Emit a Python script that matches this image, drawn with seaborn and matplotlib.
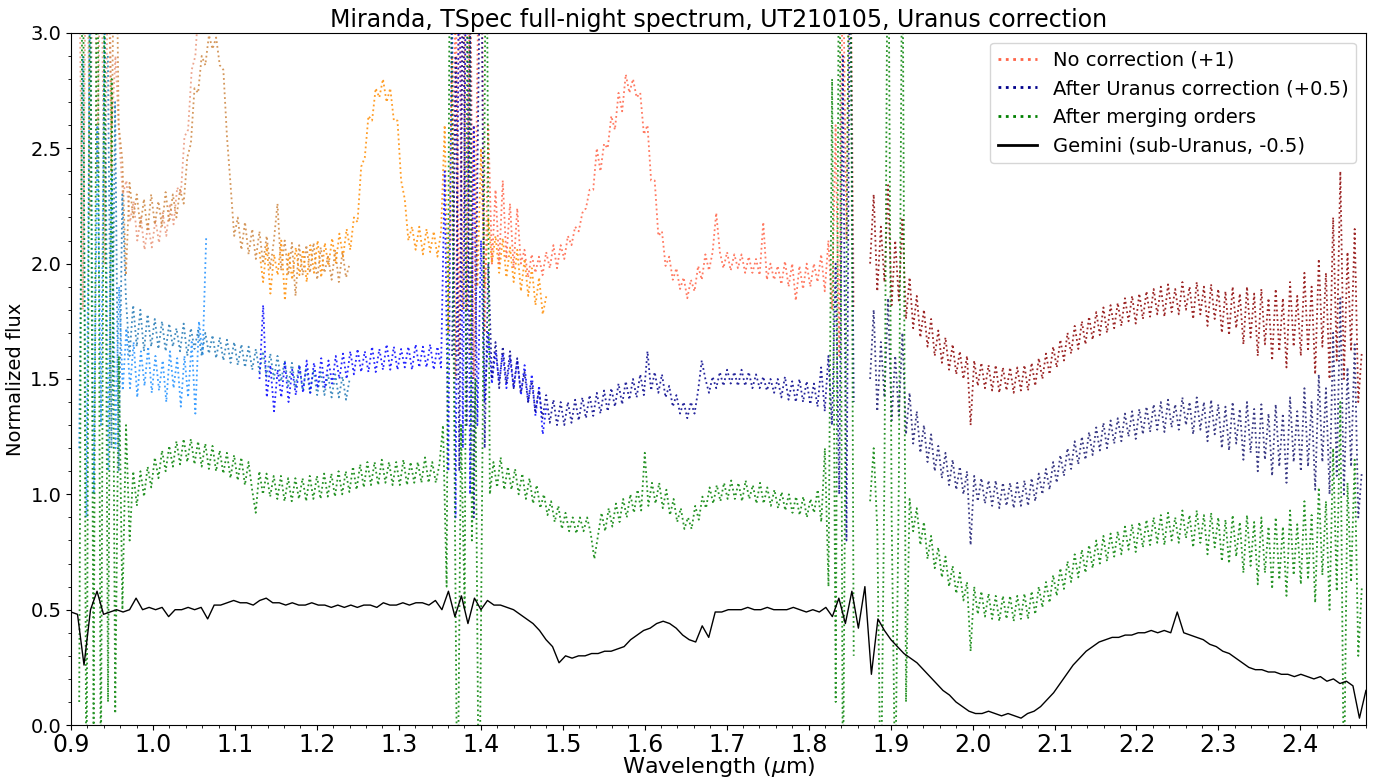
import numpy as np
import pandas as pd
import matplotlib
matplotlib.use("Agg")
import matplotlib.pyplot as plt
from matplotlib.ticker import MultipleLocator
from matplotlib.lines import Line2D
import seaborn as sns

# ---------------- data ----------------
# wavelength coverage (micron) of each spectral order / spectrum
range_a = (0.910, 1.065)
range_b = (0.945, 1.240)
range_c = (1.130, 1.480)
range_d = (1.365, 1.855)
range_e = (1.875, 2.475)
range_merged_1 = (0.910, 1.855)
range_merged_2 = (1.875, 2.475)
range_gemini = (0.900, 2.480)

# "No correction (+1)" per order
raw_a = [3.4, 1.8, 3.8, 2.2, 4.0, 2.4, 3.6, 2.0, 3.5, 2.6, 2.9,
         2.55, 2.3, 2.36, 2.18, 2.27, 2.1, 2.2, 2.06, 2.17, 2.07,
         2.19, 2.09, 2.22, 2.12, 2.26, 2.17, 2.33, 2.3, 2.55, 2.58,
         2.84, 2.9, 3.15, 3.1, 3.3]
raw_b = [3.6, 2.4, 3.9, 2.6, 2.45, 1.95, 2.35, 2.2, 2.3, 2.16,
         2.28, 2.14, 2.3, 2.17, 2.27, 2.16, 2.31, 2.18, 2.3, 2.2,
         2.32, 2.26, 2.46, 2.52, 2.76, 2.74, 2.9, 2.86, 2.99, 2.93,
         2.98, 2.86, 2.84, 2.55, 2.34, 2.12, 2.2, 2.06, 2.18, 2.04,
         2.15, 2.02, 2.14, 2.0, 2.12, 1.98, 2.1, 2.26, 1.97, 2.1,
         1.95, 2.09, 1.86, 2.08, 1.95, 2.08, 1.96, 2.09, 1.93, 2.07,
         1.96, 2.03, 1.93, 2.06, 1.92, 2.05, 1.94, 2.0]
raw_c = [2.05, 1.92, 2.08, 1.87, 2.04, 1.95, 2.1, 1.84, 2.05, 1.93,
         2.07, 1.95, 2.06, 1.92, 2.08, 1.96, 2.1, 1.94, 2.09, 1.99,
         2.11, 2.0, 2.13, 2.03, 2.15, 2.06, 2.2, 2.18, 2.42, 2.46,
         2.64, 2.62, 2.76, 2.72, 2.8, 2.7, 2.76, 2.62, 2.62, 2.36,
         2.28, 2.1, 2.16, 2.06, 2.16, 2.04, 2.15, 2.05, 2.14, 2.03,
         2.14, 2.6, 1.7, 2.9, 1.5, 3.3, 1.8, 3.6, 1.6, 2.6,
         1.9, 2.5, 1.9, 2.2, 2.0, 2.12, 1.96, 2.11, 1.94, 2.07,
         1.92, 2.06, 1.88, 2.02, 1.86, 1.98, 1.82, 1.94, 1.78, 1.86]
raw_d = [2.1, 3.2, 1.6, 3.6, 1.8, 3.4, 1.5, 2.9, 3.8, 1.7,
         2.6, 2.0, 2.32, 2.0, 2.36, 2.02, 2.26, 1.98, 2.24, 2.0,
         2.06, 1.94, 2.04, 1.96, 2.03, 1.95, 2.05, 1.98, 2.08, 1.98,
         2.08, 2.02, 2.12, 2.08, 2.16, 2.14, 2.22, 2.24, 2.32, 2.32,
         2.5, 2.4, 2.52, 2.5, 2.64, 2.58, 2.74, 2.66, 2.82, 2.74,
         2.8, 2.72, 2.74, 2.56, 2.6, 2.36, 2.36, 2.12, 2.14, 1.99,
         2.03, 1.93, 1.98, 1.89, 1.94, 1.85, 1.93, 1.88, 1.99, 1.93,
         2.04, 1.97, 2.05, 2.22, 2.05, 1.98, 2.05, 1.97, 2.04, 1.98,
         2.04, 1.96, 2.03, 1.96, 2.02, 1.95, 2.18, 1.93, 2.0, 1.93,
         1.99, 1.91, 2.01, 1.9, 2.0, 1.84, 1.99, 1.89, 2.0, 1.9,
         2.0, 1.92, 2.04, 1.88, 2.1, 1.8, 2.6, 1.6, 3.4, 2.1,
         3.7, 1.8]
raw_e = [2.0, 2.3, 1.88, 2.16, 1.92, 2.34, 1.82, 2.1, 1.84, 2.2,
         1.76, 1.94, 1.72, 1.86, 1.68, 1.8, 1.64, 1.76, 1.6, 1.71,
         1.57, 1.68, 1.54, 1.65, 1.52, 1.62, 1.5, 1.6, 1.3, 1.58,
         1.47, 1.57, 1.46, 1.56, 1.45, 1.56, 1.44, 1.55, 1.45, 1.55,
         1.44, 1.55, 1.45, 1.56, 1.45, 1.57, 1.47, 1.59, 1.5, 1.61,
         1.52, 1.64, 1.55, 1.67, 1.58, 1.7, 1.61, 1.73, 1.63, 1.75,
         1.65, 1.77, 1.67, 1.79, 1.69, 1.81, 1.7, 1.82, 1.72, 1.83,
         1.73, 1.85, 1.75, 1.86, 1.74, 1.87, 1.76, 1.88, 1.77, 1.89,
         1.78, 1.9, 1.77, 1.91, 1.79, 1.89, 1.78, 1.92, 1.8, 1.9,
         1.76, 1.92, 1.78, 1.9, 1.73, 1.91, 1.76, 1.89, 1.7, 1.88,
         1.69, 1.9, 1.72, 1.87, 1.65, 1.9, 1.68, 1.87, 1.6, 1.89,
         1.65, 1.85, 1.58, 1.89, 1.62, 1.85, 1.55, 1.92, 1.64, 1.86,
         1.6, 1.96, 1.62, 1.9, 1.52, 2.02, 1.64, 1.96, 1.5, 2.2,
         1.58, 2.4, 1.5, 2.05, 1.62, 2.15, 1.4, 1.62]

# "After Uranus correction (+0.5)" per order
corr_a = [1.2, 2.9, 0.9, 3.3, 1.0, 2.6, 1.3, 3.1, 1.1, 2.4, 1.2, 1.9,
          1.45, 1.72, 1.46, 1.66, 1.42, 1.62, 1.47, 1.64, 1.44, 1.6,
          1.45, 1.58, 1.4, 1.62, 1.46, 1.59, 1.38, 1.6, 1.42, 1.66,
          1.35, 1.75, 1.6, 2.12]
corr_b = [2.9, 1.2, 2.7, 1.1, 2.3, 1.85, 1.6, 1.82, 1.64, 1.8,
          1.62, 1.78, 1.64, 1.76, 1.63, 1.75, 1.62, 1.74, 1.64, 1.72,
          1.62, 1.74, 1.6, 1.72, 1.63, 1.71, 1.6, 1.7, 1.61, 1.69,
          1.59, 1.68, 1.58, 1.67, 1.57, 1.66, 1.56, 1.65, 1.55, 1.64,
          1.54, 1.63, 1.53, 1.62, 1.51, 1.61, 1.5, 1.6, 1.49, 1.58,
          1.47, 1.57, 1.46, 1.56, 1.45, 1.55, 1.44, 1.54, 1.43, 1.53,
          1.43, 1.52, 1.42, 1.52, 1.42, 1.51, 1.41, 1.5]
corr_c = [1.5, 1.82, 1.42, 1.56, 1.36, 1.54, 1.42, 1.57, 1.4, 1.54,
          1.43, 1.56, 1.44, 1.58, 1.44, 1.57, 1.46, 1.59, 1.46, 1.58,
          1.48, 1.6, 1.5, 1.61, 1.5, 1.62, 1.52, 1.63, 1.53, 1.62,
          1.53, 1.64, 1.53, 1.63, 1.54, 1.65, 1.54, 1.64, 1.54, 1.63,
          1.55, 1.64, 1.54, 1.65, 1.55, 1.64, 1.55, 1.65, 1.54, 1.64,
          1.55, 2.4, 1.1, 3.2, 0.9, 3.6, 1.2, 3.8, 1.0, 2.6,
          1.3, 2.1, 1.4, 1.7, 1.48, 1.62, 1.49, 1.61, 1.46, 1.59,
          1.46, 1.58, 1.43, 1.56, 1.4, 1.52, 1.34, 1.47, 1.26, 1.38]
corr_d = [1.6, 2.9, 1.1, 3.4, 1.3, 3.0, 0.9, 2.4, 3.7, 1.2,
          2.0, 1.5, 1.66, 1.46, 1.64, 1.48, 1.62, 1.46, 1.59, 1.44,
          1.53, 1.4, 1.49, 1.36, 1.45, 1.33, 1.43, 1.31, 1.41, 1.3,
          1.4, 1.3, 1.4, 1.31, 1.41, 1.32, 1.42, 1.33, 1.43, 1.34,
          1.44, 1.35, 1.45, 1.36, 1.46, 1.38, 1.48, 1.39, 1.49, 1.41,
          1.5, 1.42, 1.52, 1.43, 1.62, 1.45, 1.53, 1.44, 1.52, 1.42,
          1.47, 1.38, 1.43, 1.35, 1.4, 1.33, 1.4, 1.35, 1.45, 1.58,
          1.5, 1.44, 1.51, 1.46, 1.53, 1.47, 1.54, 1.48, 1.53, 1.47,
          1.54, 1.47, 1.53, 1.46, 1.52, 1.46, 1.51, 1.45, 1.5, 1.44,
          1.5, 1.42, 1.51, 1.41, 1.49, 1.4, 1.5, 1.4, 1.49, 1.39,
          1.48, 1.38, 1.55, 1.36, 1.6, 1.3, 2.0, 1.0, 2.9, 0.8,
          3.5, 1.4]
corr_e = [1.5, 1.8, 1.36, 1.66, 1.42, 1.85, 1.32, 1.6, 1.34, 1.7,
          1.26, 1.44, 1.22, 1.36, 1.18, 1.3, 1.14, 1.26, 1.1, 1.21,
          1.07, 1.18, 1.04, 1.15, 1.02, 1.12, 1.0, 1.1, 0.78, 1.08,
          0.97, 1.07, 0.96, 1.06, 0.95, 1.06, 0.94, 1.05, 0.95, 1.05,
          0.94, 1.05, 0.95, 1.06, 0.95, 1.07, 0.97, 1.09, 1.0, 1.11,
          1.02, 1.14, 1.05, 1.17, 1.08, 1.2, 1.11, 1.23, 1.13, 1.25,
          1.15, 1.27, 1.17, 1.29, 1.19, 1.31, 1.2, 1.32, 1.22, 1.33,
          1.23, 1.35, 1.25, 1.36, 1.24, 1.37, 1.26, 1.38, 1.27, 1.39,
          1.28, 1.4, 1.27, 1.41, 1.29, 1.39, 1.28, 1.42, 1.3, 1.4,
          1.26, 1.42, 1.28, 1.4, 1.23, 1.41, 1.26, 1.39, 1.2, 1.38,
          1.19, 1.4, 1.22, 1.37, 1.15, 1.4, 1.18, 1.37, 1.1, 1.39,
          1.15, 1.35, 1.08, 1.39, 1.12, 1.35, 1.05, 1.42, 1.14, 1.36,
          1.1, 1.46, 1.12, 1.4, 1.02, 1.52, 1.14, 1.46, 1.0, 1.7,
          1.08, 1.85, 1.0, 1.55, 1.12, 1.65, 0.9, 1.1]

# "After merging orders"
merged_1 = [0.1, 3.8, -0.5, 3.6, 0.0, 4.0, -0.3, 3.2, 0.1, 2.8,
            0.05, 1.6, 0.5, 1.3, 0.8, 1.1, 0.95, 1.1, 0.99, 1.12,
            1.03, 1.16, 1.07, 1.19, 1.1, 1.21, 1.12, 1.23, 1.13, 1.24,
            1.14, 1.24, 1.13, 1.23, 1.12, 1.22, 1.11, 1.21, 1.1, 1.19,
            1.09, 1.18, 1.07, 1.17, 1.06, 1.16, 1.04, 1.14, 1.02, 0.92,
            1.1, 1.0, 1.09, 0.99, 1.08, 0.98, 1.08, 0.97, 1.07, 0.97,
            1.07, 0.98, 1.07, 0.97, 1.08, 0.98, 1.08, 0.98, 1.09, 0.99,
            1.09, 0.99, 1.1, 1.0, 1.1, 1.01, 1.12, 1.02, 1.13, 1.03,
            1.14, 1.04, 1.14, 1.04, 1.15, 1.05, 1.14, 1.04, 1.14, 1.04,
            1.15, 1.04, 1.14, 1.05, 1.14, 1.05, 1.16, 1.05, 1.14, 1.05,
            1.13, 1.3, 0.6, 3.8, 1.5, -0.5, 1.3, 0.5, 4.0, 0.8,
            1.5, -0.6, 1.3, 3.8, 1.0, 1.14, 1.03, 1.16, 1.02, 1.12,
            1.02, 1.11, 1.0, 1.09, 0.98, 1.07, 0.96, 1.04, 0.94, 1.0,
            0.91, 0.97, 0.88, 0.95, 0.85, 0.92, 0.84, 0.9, 0.83, 0.9,
            0.84, 0.9, 0.83, 0.72, 0.82, 0.92, 0.84, 0.94, 0.86, 0.96,
            0.88, 0.98, 0.9, 1.0, 0.92, 1.02, 0.93, 1.18, 0.95, 1.05,
            0.96, 1.05, 0.94, 1.02, 0.91, 0.98, 0.88, 0.94, 0.85, 0.9,
            0.85, 0.95, 0.89, 0.99, 0.94, 1.03, 0.96, 1.04, 0.97, 1.05,
            0.98, 1.06, 0.98, 1.05, 0.97, 1.06, 0.98, 1.04, 0.96, 1.05,
            0.96, 1.03, 0.95, 1.02, 0.94, 1.01, 0.93, 1.0, 0.92, 0.99,
            0.91, 0.99, 0.9, 0.98, 0.92, 1.02, 0.88, 1.2, 0.6, 2.8,
            0.1, 3.9, -0.4, 2.0, 4.0, 0.3]
merged_2 = [0.97, 1.2, 0.85, -0.4, 1.1, 3.8, 0.9, -0.3, 1.05, 3.6,
            0.1, 0.98, 0.84, 0.94, 0.78, 0.88, 0.72, 0.82, 0.68, 0.77,
            0.64, 0.73, 0.6, 0.69, 0.57, 0.66, 0.54, 0.62, 0.32, 0.6,
            0.48, 0.58, 0.47, 0.57, 0.46, 0.56, 0.45, 0.56, 0.46, 0.56,
            0.45, 0.56, 0.46, 0.57, 0.46, 0.58, 0.48, 0.6, 0.51, 0.62,
            0.53, 0.65, 0.56, 0.68, 0.59, 0.71, 0.62, 0.74, 0.64, 0.76,
            0.66, 0.78, 0.68, 0.8, 0.7, 0.82, 0.71, 0.83, 0.73, 0.84,
            0.74, 0.86, 0.76, 0.87, 0.75, 0.88, 0.77, 0.89, 0.78, 0.9,
            0.79, 0.91, 0.78, 0.92, 0.8, 0.9, 0.79, 0.93, 0.81, 0.91,
            0.77, 0.93, 0.79, 0.91, 0.74, 0.92, 0.77, 0.9, 0.71, 0.89,
            0.7, 0.91, 0.73, 0.88, 0.66, 0.91, 0.69, 0.88, 0.61, 0.9,
            0.66, 0.86, 0.59, 0.9, 0.63, 0.86, 0.56, 0.93, 0.65, 0.87,
            0.61, 0.97, 0.63, 0.91, 0.53, 1.03, 0.65, 0.97, 0.5, 1.2,
            0.58, 1.4, -0.3, 1.05, 0.62, 1.15, 0.3, 0.6]

# "Gemini (sub-Uranus, -0.5)"
gemini = [0.49, 0.48, 0.26, 0.5, 0.58, 0.48, 0.49, 0.5, 0.49, 0.5,
          0.55, 0.5, 0.51, 0.5, 0.51, 0.47, 0.5, 0.5, 0.51, 0.5,
          0.51, 0.46, 0.52, 0.52, 0.53, 0.54, 0.53, 0.53, 0.52, 0.54,
          0.55, 0.53, 0.53, 0.52, 0.53, 0.52, 0.52, 0.53, 0.52, 0.52,
          0.51, 0.52, 0.51, 0.52, 0.51, 0.52, 0.52, 0.51, 0.53, 0.52,
          0.52, 0.53, 0.52, 0.53, 0.53, 0.52, 0.54, 0.5, 0.58, 0.47,
          0.56, 0.44, 0.55, 0.5, 0.54, 0.52, 0.52, 0.51, 0.5, 0.48,
          0.46, 0.44, 0.41, 0.37, 0.34, 0.27, 0.3, 0.29, 0.3, 0.3,
          0.31, 0.31, 0.32, 0.32, 0.33, 0.34, 0.37, 0.39, 0.41, 0.42,
          0.44, 0.45, 0.44, 0.42, 0.39, 0.37, 0.36, 0.43, 0.38, 0.49,
          0.49, 0.5, 0.5, 0.5, 0.51, 0.5, 0.5, 0.51, 0.5, 0.5,
          0.5, 0.51, 0.5, 0.49, 0.5, 0.49, 0.51, 0.47, 0.55, 0.44,
          0.58, 0.42, 0.6, 0.22, 0.46, 0.41, 0.37, 0.34, 0.31, 0.29,
          0.27, 0.24, 0.21, 0.18, 0.15, 0.13, 0.1, 0.08, 0.06, 0.05,
          0.05, 0.06, 0.05, 0.04, 0.05, 0.04, 0.03, 0.05, 0.06, 0.08,
          0.11, 0.14, 0.18, 0.22, 0.26, 0.29, 0.32, 0.34, 0.36, 0.37,
          0.38, 0.38, 0.39, 0.39, 0.4, 0.4, 0.41, 0.4, 0.41, 0.4,
          0.49, 0.4, 0.39, 0.38, 0.37, 0.35, 0.34, 0.32, 0.31, 0.29,
          0.27, 0.25, 0.24, 0.24, 0.23, 0.23, 0.22, 0.22, 0.21, 0.22,
          0.21, 0.2, 0.21, 0.19, 0.2, 0.18, 0.19, 0.17, 0.03, 0.15]

legend_labels = ["No correction (+1)", "After Uranus correction (+0.5)",
                 "After merging orders", "Gemini (sub-Uranus, -0.5)"]

# ---------------- plot ----------------
fig = plt.figure(figsize=(13.76, 7.83), dpi=100)
ax = fig.add_axes([0.0516, 0.074, 0.9411, 0.884])


def draw(wl_range, flux, color, ls=":", lw=1.3, alpha=0.85):
    wl = np.linspace(wl_range[0], wl_range[1], len(flux))
    df = pd.DataFrame({"wl": wl, "flux": flux})
    sns.lineplot(data=df, x="wl", y="flux", ax=ax, color=color,
                 linestyle=ls, lw=lw, alpha=alpha,
                 estimator=None, sort=False)
    return ax.lines[-1]


for rng, raw, corr, c_raw, c_corr in [
        (range_a, raw_a, corr_a, "darksalmon", "dodgerblue"),
        (range_b, raw_b, corr_b, "peru", "tab:blue"),
        (range_c, raw_c, corr_c, "darkorange", "blue"),
        (range_d, raw_d, corr_d, "tomato", "darkblue"),
        (range_e, raw_e, corr_e, "darkred", "midnightblue")]:
    draw(rng, raw, c_raw)
    draw(rng, corr, c_corr)

draw(range_merged_1, merged_1, "green")
draw(range_merged_2, merged_2, "green")
draw(range_gemini, gemini, "black", ls="-", lw=1.0, alpha=1.0)

handles = [Line2D([], [], color="tomato", ls=":", lw=2),
           Line2D([], [], color="darkblue", ls=":", lw=2),
           Line2D([], [], color="green", ls=":", lw=2),
           Line2D([], [], color="black", ls="-", lw=2)]
ax.legend(handles, legend_labels, loc="upper right", fontsize=14)

ax.set_xlim(0.9, 2.48)
ax.set_ylim(0, 3)
ax.xaxis.set_major_locator(MultipleLocator(0.1))
ax.xaxis.set_minor_locator(MultipleLocator(0.02))
ax.yaxis.set_major_locator(MultipleLocator(0.5))
ax.yaxis.set_minor_locator(MultipleLocator(0.1))
ax.tick_params(axis="x", labelsize=17, pad=2)
ax.tick_params(axis="y", labelsize=14)
ax.set_xlabel(r"Wavelength ($\mu$m)", fontsize=16, labelpad=-1)
ax.set_ylabel("Normalized flux", fontsize=14)
ax.set_title("Miranda, TSpec full-night spectrum, UT210105, Uranus correction",
             fontsize=17, pad=4)

fig.savefig("out.png", dpi=100)
